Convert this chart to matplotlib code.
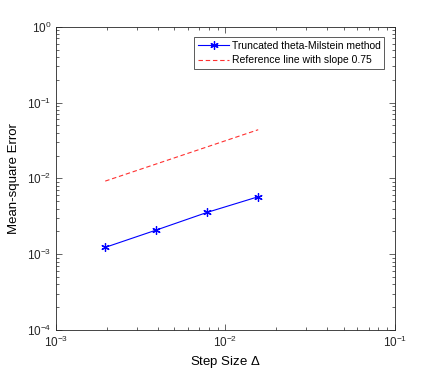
import numpy as np
import matplotlib.pyplot as plt

plt.rcParams['font.family'] = ['Liberation Sans', 'DejaVu Sans']
plt.rcParams['mathtext.fontset'] = 'custom'
plt.rcParams['mathtext.rm'] = 'Liberation Sans'

step = [2**-9, 2**-8, 2**-7, 2**-6]
mse = [1.23e-3, 2.08e-3, 3.56e-3, 5.72e-3]
ref = [9.2e-3, 4.38e-2]
ref_x = [step[0], step[-1]]

fig = plt.figure(figsize=(4.36, 3.71), dpi=100)
ax = fig.add_axes([0.1284, 0.1105, 0.777, 0.8175])

ax.loglog(step, mse, color='b', marker=(6, 2, 0), markersize=6, markeredgewidth=0.9,
          linewidth=0.8, label='Truncated theta-Milstein method')
ax.loglog(ref_x, ref, color='#ff3030', linestyle='--', linewidth=0.8,
          dashes=(4, 2.5), label='Reference line with slope 0.75')

ax.set_xlim(1e-3, 1e-1)
ax.set_ylim(1e-4, 1)
ax.set_xlabel('Step Size $\\Delta$', fontsize=9.5, labelpad=3)
ax.set_ylabel('Mean-square Error', fontsize=9.5, labelpad=5)

ax.tick_params(which='both', direction='in', top=True, right=True,
               labelsize=8.5, colors='#262626', width=0.5)
ax.tick_params(which='major', length=4)
ax.tick_params(which='minor', length=2)
for s in ax.spines.values():
    s.set_linewidth(0.6)
    s.set_color('#262626')

leg = ax.legend(loc='upper right', fontsize=7.5, fancybox=False, framealpha=1,
                edgecolor='#404040', handlelength=3.0, borderaxespad=1.0,
                labelspacing=0.45, handletextpad=0.25, borderpad=0.35)
leg.get_frame().set_linewidth(0.6)

plt.savefig('out.png')
